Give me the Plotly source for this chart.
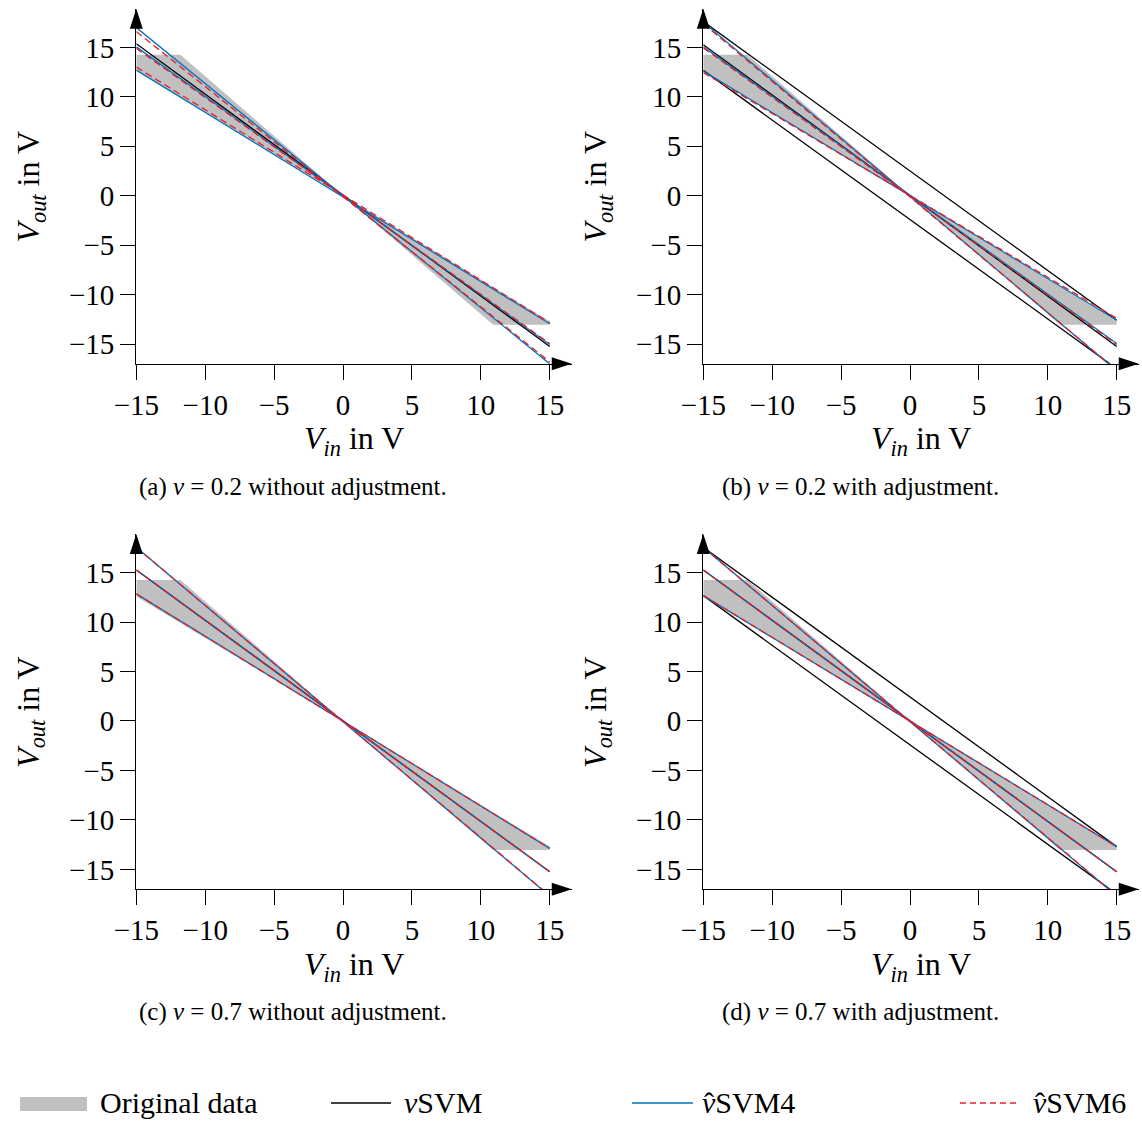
import plotly.graph_objects as go

# ---------------- data ----------------
X_ENDS = [-15, 15]

# "Original data" band (same in all four panels)
GRAY_X = [-15, -15, -11.8, 0, 10.9, 15, 15, 0, -15]
GRAY_Y = [12.6, 14.25, 14.25, 0, -13.05, -13.05, -12.7, 0, 12.6]

# each inner list = y values at X_ENDS for one line
A_SVM = [[15.37, -15.24]]
A_S4 = [[17.0, -17.0], [15.05, -15.05], [12.7, -12.95]]
A_S6 = [[16.6, -16.8], [14.9, -14.95], [13.0, -12.85]]

B_SVM = [[17.6, -12.6], [15.27, -15.24], [12.68, -17.5]]
B_S4 = [[17.55, -17.7], [15.05, -14.95], [12.6, -12.6]]
B_S6 = [[17.4, -17.66], [14.95, -15.05], [12.45, -12.4]]

C_SVM = [[15.27, -15.24]]
C_S4 = [[17.56, -17.7], [15.27, -15.24], [12.85, -12.88]]
C_S6 = [[17.56, -17.66], [15.27, -15.24], [12.85, -12.88]]

D_SVM = [[17.56, -12.7], [15.27, -15.24], [12.68, -17.5]]
D_S4 = [[17.56, -17.7], [15.27, -15.24], [12.68, -12.7]]
D_S6 = [[17.56, -17.66], [15.27, -15.24], [12.68, -12.7]]

X_TICKS = [-15, -10, -5, 0, 5, 10, 15]
X_TICK_LABELS = ["\u221215", "\u221210", "\u22125", "0", "5", "10", "15"]
Y_TICKS = [-15, -10, -5, 0, 5, 10, 15]
Y_TICK_LABELS = ["\u221215", "\u221210", "\u22125", "0", "5", "10", "15"]

CAPTIONS = [
    "(a) <i>\u03bd</i> = 0.2 without adjustment.",
    "(b) <i>\u03bd</i> = 0.2 with adjustment.",
    "(c) <i>\u03bd</i> = 0.7 without adjustment.",
    "(d) <i>\u03bd</i> = 0.7 with adjustment.",
]
X_TITLE = "<i>V</i><sub><i>in</i></sub> in V"
Y_TITLE = "<i>V</i><sub><i>out</i></sub> in V"
LEGEND_LABELS = ["Original data", "<i>\u03bd</i>SVM", "<i>\u03bd</i>SVM4", "<i>\u03bd</i>SVM6"]
LEGEND_HAT = [False, False, True, True]   # ν with a circumflex (ν̂)

# ---------------- styles / geometry ----------------
FONT = "Liberation Serif"
GRAY = "#c0c0c0"
BLACK = "#000000"
BLUE = "#0072bd"
RED = "#e61e28"
LW = 1.3

W, H, OFF = 1142, 1122, 0
XMAX, YMIN, YMAX = 16.6, -17.0, 18.9
SX, SY = 13.78, 9.89


def px(x):
    return (x - OFF) / W


def py(y):
    return 1 - (y - OFF) / H


# (left edge px where x=-15, px row where y=0, caption centre)
PANELS = [
    (A_SVM, A_S4, A_S6, 136.3, 195.7, 293, 487),
    (B_SVM, B_S4, B_S6, 703.3, 195.7, 860, 487),
    (C_SVM, C_S4, C_S6, 136.3, 721.0, 293, 1012),
    (D_SVM, D_S4, D_S6, 703.3, 721.0, 860, 1012),
]

fig = go.Figure()
shapes = []
annotations = []

for i, (svm, s4, s6, L, y0, capx, capy) in enumerate(PANELS):
    n = "" if i == 0 else str(i + 1)
    xa, ya = "x" + n, "y" + n
    fig.add_trace(go.Scatter(x=GRAY_X, y=GRAY_Y, mode="lines", fill="toself",
                             fillcolor=GRAY, line=dict(width=0, color=GRAY),
                             xaxis=xa, yaxis=ya, showlegend=False, hoverinfo="skip"))
    for ys in svm:
        fig.add_trace(go.Scatter(x=X_ENDS, y=ys, mode="lines",
                                 line=dict(color=BLACK, width=LW),
                                 xaxis=xa, yaxis=ya, showlegend=False))
    for ys in s4:
        fig.add_trace(go.Scatter(x=X_ENDS, y=ys, mode="lines",
                                 line=dict(color=BLUE, width=LW),
                                 xaxis=xa, yaxis=ya, showlegend=False))
    for ys in s6:
        fig.add_trace(go.Scatter(x=X_ENDS, y=ys, mode="lines",
                                 line=dict(color=RED, width=LW, dash="7px,4px"),
                                 xaxis=xa, yaxis=ya, showlegend=False))

    x_left = L
    x_right = min(L + (XMAX + 15) * SX, W + OFF - 1)
    xmax_eff = (x_right - L) / SX - 15
    y_bot = y0 - YMIN * SY
    y_top = y0 - YMAX * SY
    axis_common = dict(showgrid=False, zeroline=False, showline=True, linecolor=BLACK,
                       linewidth=LW, ticks="outside", ticklen=15, tickwidth=LW,
                       tickcolor=BLACK, tickfont=dict(family=FONT, size=29, color=BLACK),
                       fixedrange=True, automargin=False)
    fig.update_layout(**{
        "xaxis" + n: dict(domain=[px(x_left), px(x_right)], range=[-15, xmax_eff],
                          anchor=ya, tickvals=X_TICKS, ticktext=X_TICK_LABELS,
                          ticklabelstandoff=0, **axis_common),
        "yaxis" + n: dict(domain=[py(y_bot), py(y_top)], range=[YMIN, YMAX],
                          anchor=xa, tickvals=Y_TICKS, ticktext=Y_TICK_LABELS,
                          **axis_common),
    })
    # arrow heads
    shapes.append(dict(type="path", xref="paper", yref="paper",
                       path=f"M {px(x_left)},{py(y_top)} L {px(x_left - 6.5)},{py(y_top + 20)} "
                            f"L {px(x_left + 6.5)},{py(y_top + 20)} Z",
                       fillcolor=BLACK, line=dict(width=0)))
    shapes.append(dict(type="path", xref="paper", yref="paper",
                       path=f"M {px(x_right)},{py(y_bot)} L {px(x_right - 20)},{py(y_bot - 6.5)} "
                            f"L {px(x_right - 20)},{py(y_bot + 6.5)} Z",
                       fillcolor=BLACK, line=dict(width=0)))
    # axis titles
    annotations.append(dict(text=X_TITLE, x=px((x_left + x_right) / 2), y=py(y_bot + 77),
                            xref="paper", yref="paper", showarrow=False,
                            font=dict(family=FONT, size=32, color=BLACK),
                            xanchor="center", yanchor="middle"))
    annotations.append(dict(text=Y_TITLE, x=px(x_left - 106), y=py((y_top + y_bot) / 2),
                            xref="paper", yref="paper", showarrow=False, textangle=-90,
                            font=dict(family=FONT, size=32, color=BLACK),
                            xanchor="center", yanchor="middle"))
    annotations.append(dict(text=CAPTIONS[i], x=px(capx), y=py(capy),
                            xref="paper", yref="paper", showarrow=False,
                            font=dict(family=FONT, size=25, color=BLACK),
                            xanchor="center", yanchor="middle"))

# ---------------- custom legend ----------------
LEG_Y = 1103
shapes.append(dict(type="rect", xref="paper", yref="paper",
                   x0=px(20), x1=px(87), y0=py(1097), y1=py(1111),
                   fillcolor=GRAY, line=dict(width=0)))
for (x0, x1, col, dash) in [(331, 391, BLACK, "solid"), (632, 693, BLUE, "solid"),
                            (960, 1020, RED, "6px,4px")]:
    shapes.append(dict(type="line", xref="paper", yref="paper",
                       x0=px(x0), x1=px(x1), y0=py(LEG_Y), y1=py(LEG_Y),
                       line=dict(color=col, width=LW, dash=dash)))
for label, hat, xt in zip(LEGEND_LABELS, LEGEND_HAT, [98, 402, 700, 1031]):
    annotations.append(dict(text=label, x=px(xt), y=py(LEG_Y - 1), xref="paper", yref="paper",
                            showarrow=False, xanchor="left", yanchor="middle",
                            font=dict(family=FONT, size=30, color=BLACK)))
    if hat:
        annotations.append(dict(text="\u02c6", x=px(xt + 9), y=py(LEG_Y - 1), xref="paper",
                                yref="paper", showarrow=False, xanchor="center",
                                yanchor="middle",
                                font=dict(family=FONT, size=30, color=BLACK)))

fig.update_layout(width=W, height=H, margin=dict(l=0, r=0, t=0, b=0, pad=0),
                  paper_bgcolor="white", plot_bgcolor="white",
                  shapes=shapes, annotations=annotations, showlegend=False,
                  font=dict(family=FONT, color=BLACK))

fig.write_html("out.html", config={"displayModeBar": False},
               post_script="document.body.style.margin='0px';")
